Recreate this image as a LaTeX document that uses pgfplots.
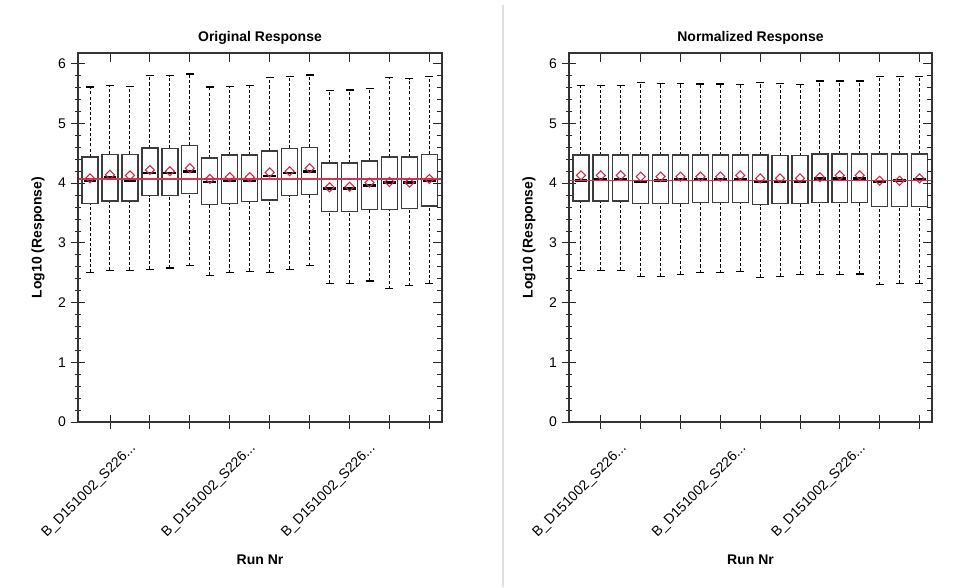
\documentclass[border=0pt]{standalone}
\usepackage{fontspec}
\setmainfont{Liberation Sans}
\usepackage{pgfplots}
\pgfplotsset{compat=1.18}
\usepgfplotslibrary{statistics}
\definecolor{meanred}{RGB}{215,35,70}
\definecolor{linered}{RGB}{205,55,80}
\definecolor{boxgray}{RGB}{60,60,60}
\newcommand{\fs}{\fontsize{10.5}{12}\selectfont}
\newcommand{\lbl}{B\_D151002\_S226.{}.{}.}
\pgfplotsset{
  boxplot/draw direction=y,
  boxplot/box extend=0.8,
  boxplot/whisker extend=0.4,
  boxplot/every box/.style={draw=boxgray, line width=1pt},
  boxplot/every median/.style={black, line width=2.2pt},
  boxplot/draw/median/.code={%
    \draw[/pgfplots/boxplot/every median/.try]
      (boxplot box cs:\pgfplotsboxplotvalue{median},0.1) --
      (boxplot box cs:\pgfplotsboxplotvalue{median},0.9);},
  boxplot/draw/lower whisker/.code={%
    \draw[black, line width=0.7pt, dash pattern=on 2.3pt off 1.6pt]
      (boxplot box cs:\pgfplotsboxplotvalue{lower whisker},0.5) --
      (boxplot box cs:\pgfplotsboxplotvalue{lower quartile},0.5);
    \draw[black, line width=0.9pt]
      (boxplot whisker cs:\pgfplotsboxplotvalue{lower whisker},0) --
      (boxplot whisker cs:\pgfplotsboxplotvalue{lower whisker},1);},
  boxplot/draw/upper whisker/.code={%
    \draw[black, line width=0.7pt, dash pattern=on 2.3pt off 1.6pt]
      (boxplot box cs:\pgfplotsboxplotvalue{upper quartile},0.5) --
      (boxplot box cs:\pgfplotsboxplotvalue{upper whisker},0.5);
    \draw[black, line width=0.9pt]
      (boxplot whisker cs:\pgfplotsboxplotvalue{upper whisker},0) --
      (boxplot whisker cs:\pgfplotsboxplotvalue{upper whisker},1);},
  panelbase/.style={
    scale only axis, height=276.75pt,
    ymin=0, ymax=6.18, xmin=0.4, xmax=18.63,
    ytick={0,1,2,3,4,5,6}, minor y tick num=4,
    xtick={2,4,6,8,10,12,14,16,18}, xticklabels={},
    axis line style={black!80, line width=0.8pt},
    tick style={black!85, line width=0.6pt},
  },
  panel/.style={
    panelbase,
    major tick length=11pt, minor tick length=5pt,
    tick align=center, xtick pos=left, ytick pos=left,
    /pgf/number format/assume math mode=true,
    tick label style={font=\fs},
    extra x ticks={3,9,15},
    extra x tick labels={\lbl,\lbl,\lbl},
    extra x tick style={tick style={draw=none}, xticklabel style={rotate=45, anchor=east, xshift=-3.5pt, yshift=-11pt}},
    title style={font=\fs\bfseries, at={(0.5,1)}, anchor=base, yshift=2.5pt},
    xlabel={Run Nr}, ylabel={Log10 (Response)},
    label style={font=\fs\bfseries},
    xlabel style={at={(axis description cs:0.5,0)}, anchor=base, yshift=-107pt},
  },
  mirror/.style={
    panelbase,
    major tick length=7pt, minor tick length=3.75pt,
    tick align=inside, xtick pos=right, ytick pos=right,
    yticklabels={},
  },
  meanmarks/.style={only marks, mark=square, mark size=2.4pt,
    mark options={rotate=45, draw=meanred, line width=0.8pt, fill=none}},
}
\newcommand{\bx}[6]{\addplot[boxplot prepared={draw position=#1, lower whisker=#2,
  lower quartile=#3, median=#4, upper quartile=#5, upper whisker=#6}] coordinates {};}
\begin{document}
\begin{tikzpicture}
\useasboundingbox (-58.5pt,-123.75pt) rectangle (670.5pt,316.5pt);
% ---------------- left panel ----------------
\begin{axis}[panel, width=273pt, at={(0pt,0pt)}, anchor=south west, title={Original Response},
  ylabel style={at={(axis description cs:-0.11,0.5)}, anchor=center}]
\bx{1}{2.51}{3.66}{4.05}{4.44}{5.61}
\bx{2}{2.54}{3.70}{4.09}{4.48}{5.64}
\bx{3}{2.54}{3.70}{4.05}{4.48}{5.62}
\bx{4}{2.56}{3.79}{4.17}{4.59}{5.80}
\bx{5}{2.58}{3.79}{4.17}{4.58}{5.80}
\bx{6}{2.62}{3.83}{4.20}{4.63}{5.83}
\bx{7}{2.46}{3.64}{4.02}{4.42}{5.61}
\bx{8}{2.50}{3.66}{4.05}{4.47}{5.62}
\bx{9}{2.52}{3.69}{4.05}{4.47}{5.64}
\bx{10}{2.50}{3.72}{4.12}{4.54}{5.77}
\bx{11}{2.56}{3.79}{4.17}{4.58}{5.78}
\bx{12}{2.62}{3.81}{4.19}{4.60}{5.81}
\bx{13}{2.32}{3.53}{3.91}{4.34}{5.55}
\bx{14}{2.32}{3.53}{3.91}{4.34}{5.56}
\bx{15}{2.36}{3.56}{3.96}{4.37}{5.58}
\bx{16}{2.23}{3.56}{4.01}{4.44}{5.77}
\bx{17}{2.28}{3.58}{4.01}{4.44}{5.75}
\bx{18}{2.32}{3.62}{4.05}{4.48}{5.78}
\addplot[linered, line width=0.9pt] coordinates {(0.4,4.07) (18.63,4.07)};
\addplot[meanmarks] coordinates {
(1,4.08) (2,4.14) (3,4.13) (4,4.22) (5,4.20) (6,4.25) (7,4.07) (8,4.10) (9,4.10)
(10,4.18) (11,4.20) (12,4.25) (13,3.93) (14,3.94) (15,4.01) (16,4.02) (17,4.01) (18,4.07)};
\end{axis}
\begin{axis}[mirror, width=273pt, at={(0pt,0pt)}, anchor=south west]
\end{axis}
% ---------------- right panel ----------------
\begin{axis}[panel, width=272.25pt, at={(368.25pt,0pt)}, anchor=south west, title={Normalized Response},
  ylabel style={at={(axis description cs:-0.11,0.5)}, anchor=center}]
\bx{1}{2.54}{3.70}{4.04}{4.47}{5.64}
\bx{2}{2.54}{3.70}{4.07}{4.47}{5.64}
\bx{3}{2.54}{3.70}{4.07}{4.47}{5.63}
\bx{4}{2.44}{3.66}{4.02}{4.47}{5.69}
\bx{5}{2.44}{3.66}{4.05}{4.47}{5.67}
\bx{6}{2.47}{3.66}{4.06}{4.47}{5.67}
\bx{7}{2.50}{3.68}{4.06}{4.47}{5.66}
\bx{8}{2.50}{3.68}{4.06}{4.47}{5.66}
\bx{9}{2.52}{3.68}{4.06}{4.47}{5.65}
\bx{10}{2.42}{3.64}{4.03}{4.47}{5.69}
\bx{11}{2.44}{3.66}{4.03}{4.46}{5.67}
\bx{12}{2.47}{3.66}{4.03}{4.46}{5.65}
\bx{13}{2.47}{3.68}{4.08}{4.49}{5.71}
\bx{14}{2.47}{3.68}{4.08}{4.49}{5.71}
\bx{15}{2.48}{3.68}{4.08}{4.49}{5.71}
\bx{16}{2.30}{3.61}{4.03}{4.49}{5.79}
\bx{17}{2.32}{3.61}{4.05}{4.49}{5.79}
\bx{18}{2.32}{3.61}{4.06}{4.49}{5.79}
\addplot[linered, line width=0.9pt] coordinates {(0.4,4.05) (18.63,4.05)};
\addplot[meanmarks] coordinates {
(1,4.13) (2,4.13) (3,4.13) (4,4.11) (5,4.11) (6,4.11) (7,4.11) (8,4.11) (9,4.13)
(10,4.08) (11,4.08) (12,4.08) (13,4.10) (14,4.13) (15,4.13) (16,4.04) (17,4.04) (18,4.08)};
\end{axis}
\begin{axis}[mirror, width=272.25pt, at={(368.25pt,0pt)}, anchor=south west]
\end{axis}
\draw[black!12, line width=1.2pt] (318.75pt,-123.75pt) -- (318.75pt,313pt);
\end{tikzpicture}
\end{document}
